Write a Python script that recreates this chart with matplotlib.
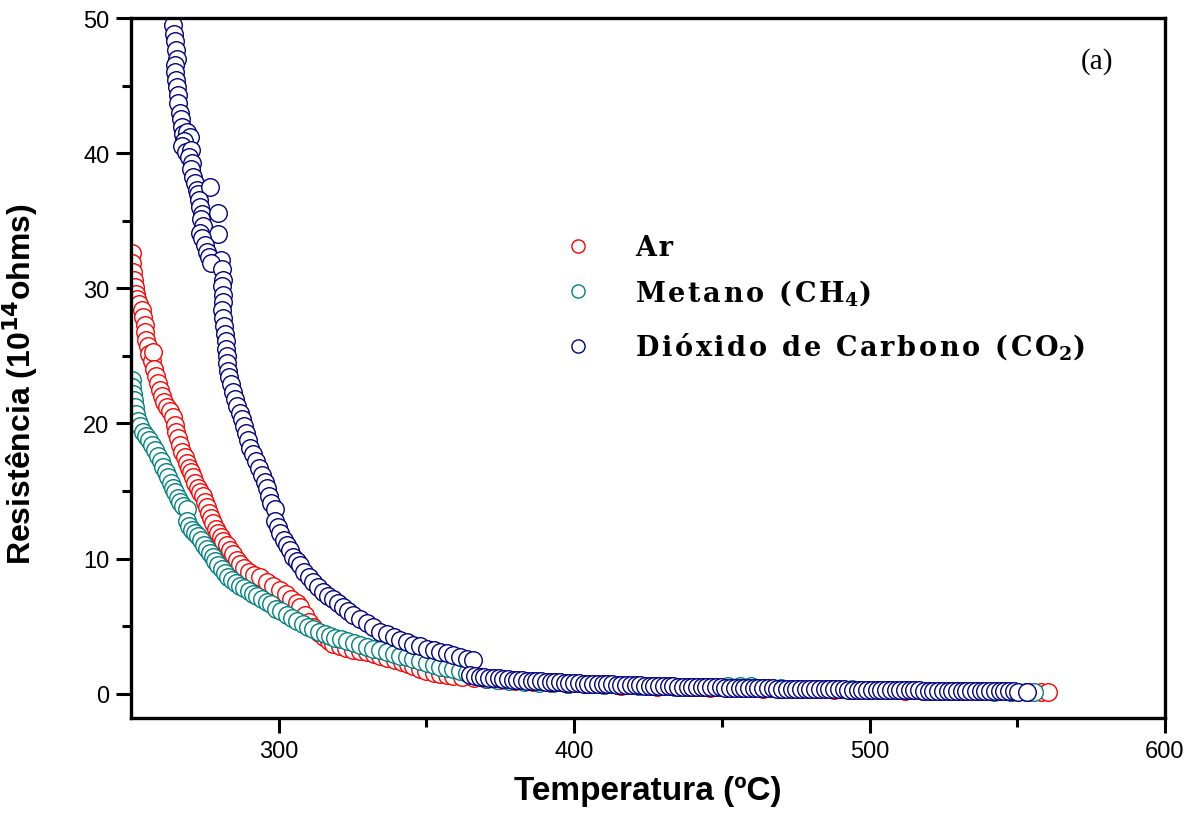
import matplotlib
matplotlib.use("Agg")
import matplotlib.pyplot as plt
from matplotlib.lines import Line2D

# Ar
ar_temp = [250.3, 250.4, 250.6, 250.9, 251.3, 251.6, 252.0, 252.8, 253.6, 254.1,
           254.6, 254.9, 255.1, 255.6, 256.2, 257.2, 257.5, 257.9, 258.6, 259.2,
           259.9, 260.5, 261.2, 262.2, 263.3, 264.3, 264.8, 265.2, 265.8, 266.6,
           267.4, 268.2, 268.8, 269.6, 270.4, 271.1, 271.8, 272.6, 273.4, 274.3,
           275.0, 275.6, 276.4, 277.2, 277.9, 278.7, 279.5, 280.4, 281.3, 282.4,
           283.5, 284.6, 285.8, 286.9, 288.4, 290.0, 291.8, 293.7, 295.9, 298.1,
           300.4, 302.3, 304.2, 306.1, 307.2, 308.8, 310.3, 311.7, 313.5, 315.3,
           317.0, 318.5, 320.6, 322.8, 325.3, 327.6, 330.0, 332.2, 334.3, 336.8,
           339.2, 341.6, 343.6, 345.6, 347.8, 350.0, 352.4, 354.6, 356.8, 359.1,
           362.0, 366.0, 370.0, 375.0, 380.0, 386.0, 392.0, 398.0, 404.0, 410.0,
           416.0, 422.0, 428.0, 434.0, 440.0, 446.0, 452.0, 458.0, 464.0, 470.0,
           476.0, 482.0, 488.0, 494.0, 500.0, 506.0, 512.0, 518.0, 524.0, 530.0,
           536.0, 542.0, 548.0, 554.0, 558.0, 560.4]
ar_res = [32.6, 31.9, 31.2, 30.6, 30.1, 29.6, 29.2, 28.8, 28.4, 27.9,
          27.3, 26.8, 26.2, 25.7, 25.1, 24.6, 25.3, 24.0, 23.5, 23.0,
          22.5, 22.0, 21.6, 21.2, 20.9, 20.5, 19.9, 19.4, 18.9, 18.4,
          17.9, 17.5, 17.1, 16.7, 16.4, 16.0, 15.6, 15.2, 14.9, 14.6,
          14.2, 13.8, 13.4, 13.0, 12.6, 12.2, 11.9, 11.6, 11.3, 11.0,
          10.6, 10.3, 9.9, 9.6, 9.3, 9.0, 8.8, 8.6, 8.3, 8.0,
          7.7, 7.4, 7.0, 6.7, 6.4, 5.8, 5.3, 4.9, 4.5, 4.2,
          3.9, 3.7, 3.5, 3.35, 3.25, 3.15, 3.05, 2.9, 2.8, 2.65,
          2.5, 2.35, 2.2, 2.05, 1.85, 1.7, 1.55, 1.45, 1.4, 1.3,
          1.25, 1.15, 1.08, 1.0, 0.93, 0.86, 0.8, 0.74, 0.69, 0.64,
          0.6, 0.56, 0.53, 0.5, 0.47, 0.44, 0.41, 0.39, 0.37, 0.35,
          0.33, 0.31, 0.29, 0.27, 0.26, 0.24, 0.23, 0.22, 0.2, 0.19,
          0.18, 0.17, 0.16, 0.15, 0.14, 0.13]

# Metano (CH4)
ch4_temp = [250.3, 250.5, 250.8, 251.1, 251.4, 251.8, 252.3, 253.0, 254.0, 255.0,
            256.0, 257.0, 258.0, 259.0, 260.0, 260.9, 261.8, 262.6, 263.4, 264.2,
            265.0, 265.8, 266.6, 267.5, 268.8, 268.9, 269.8, 270.8, 271.8, 272.8,
            273.8, 274.8, 275.7, 276.6, 277.6, 278.6, 279.6, 280.7, 281.8, 283.0,
            284.3, 285.6, 287.0, 288.4, 289.8, 291.3, 292.8, 294.3, 295.9, 297.5,
            299.2, 300.9, 302.7, 304.5, 306.3, 308.1, 309.9, 311.7, 313.6, 315.5,
            317.4, 319.2, 321.0, 323.2, 325.4, 327.6, 329.8, 332.0, 334.3, 336.6,
            338.9, 341.1, 343.4, 345.6, 347.9, 350.1, 352.4, 354.6, 356.9, 359.1,
            361.4, 363.6, 365.9, 368.2, 370.4, 374.0, 378.0, 383.0, 388.0, 393.0,
            398.0, 404.0, 410.0, 416.0, 422.0, 428.0, 434.0, 440.0, 446.0, 452.0,
            456.0, 460.0, 464.0, 470.0, 476.0, 482.0, 488.0, 494.0, 500.0, 506.0,
            512.0, 518.0, 524.0, 530.0, 536.0, 542.0, 548.0, 553.0, 555.5]
ch4_res = [23.2, 22.7, 22.2, 21.7, 21.2, 20.7, 20.2, 19.8, 19.4, 19.1,
           18.8, 18.4, 18.0, 17.6, 17.2, 16.8, 16.4, 16.0, 15.6, 15.2,
           14.9, 14.5, 14.2, 13.9, 13.7, 12.8, 12.4, 12.1, 11.9, 11.7,
           11.4, 11.0, 10.7, 10.4, 10.1, 9.8, 9.5, 9.2, 8.9, 8.6,
           8.4, 8.2, 8.0, 7.8, 7.6, 7.4, 7.2, 7.0, 6.8, 6.6,
           6.3, 6.1, 5.8, 5.6, 5.35, 5.15, 4.95, 4.8, 4.6, 4.45,
           4.3, 4.15, 4.05, 3.9, 3.75, 3.6, 3.45, 3.3, 3.2, 3.05,
           2.95, 2.8, 2.7, 2.6, 2.45, 2.3, 2.15, 2.0, 1.9, 1.8,
           1.65, 1.5, 1.35, 1.2, 1.05, 0.98, 0.92, 0.87, 0.82, 0.78,
           0.74, 0.7, 0.66, 0.62, 0.59, 0.56, 0.53, 0.5, 0.48, 0.56,
           0.6, 0.56, 0.44, 0.41, 0.38, 0.36, 0.34, 0.31, 0.29, 0.27,
           0.25, 0.23, 0.21, 0.19, 0.17, 0.15, 0.13, 0.11, 0.1]

# Dioxido de Carbono (CO2): upper run up to 366 C, then the lower run
co2_temp = [263.2, 263.5, 263.9, 264.1, 264.3, 264.6, 264.9, 265.3, 265.5, 265.0,
            264.9, 265.3, 265.5, 266.0, 266.0, 266.5, 266.8, 267.4, 267.7, 269.0,
            270.0, 268.0, 267.2, 268.5, 270.4, 269.6, 270.5, 270.3, 270.9, 271.6,
            272.2, 272.8, 276.7, 273.1, 273.4, 274.0, 279.6, 273.6, 274.3, 273.4,
            279.6, 274.2, 275.0, 275.6, 276.3, 280.4, 277.0, 280.7, 281.0, 280.7,
            281.0, 281.2, 280.9, 281.2, 281.5, 281.8, 282.0, 282.3, 282.4, 282.6,
            282.9, 283.3, 283.9, 284.6, 285.3, 286.0, 286.8, 287.5, 288.2, 288.9,
            289.6, 290.3, 291.2, 292.2, 293.2, 294.2, 295.2, 296.0, 296.8, 297.5,
            298.7, 298.9, 299.6, 300.5, 301.7, 302.7, 303.8, 305.0, 306.1, 307.2,
            308.6, 310.1, 311.7, 313.4, 315.1, 316.8, 318.5, 320.2, 321.9, 323.6,
            325.3, 327.5, 329.8, 332.0, 334.3, 336.6, 338.9, 341.2, 343.4, 345.6,
            347.9, 350.2, 352.4, 354.7, 356.9, 359.1, 361.4, 363.6, 365.9,
            364.8, 366.4, 368.0, 369.6, 371.2, 372.8, 374.4, 376.0, 377.6, 379.2,
            380.8, 382.4, 384.0, 385.6, 387.2, 388.8, 390.4, 392.0, 393.6, 395.2,
            396.8, 398.4, 400.0, 401.6, 403.2, 404.8, 406.4, 408.0, 409.6, 411.2,
            412.8, 414.4, 416.0, 417.6, 419.2, 420.8, 422.4, 424.0, 425.6, 427.2,
            428.8, 430.4, 432.0, 433.6, 435.2, 436.8, 438.4, 440.0, 441.6, 443.2,
            444.8, 446.4, 448.0, 449.6, 451.2, 452.8, 454.4, 456.0, 457.6, 459.2,
            460.8, 462.4, 464.0, 465.6, 467.2, 468.8, 470.4, 472.0, 473.6, 475.2,
            476.8, 478.4, 480.0, 481.6, 483.2, 484.8, 486.4, 488.0, 489.6, 491.2,
            492.8, 494.4, 496.0, 497.6, 499.2, 500.8, 502.4, 504.0, 505.6, 507.2,
            508.8, 510.4, 512.0, 513.6, 515.2, 516.8, 518.4, 520.0, 521.6, 523.2,
            524.8, 526.4, 528.0, 529.6, 531.2, 532.8, 534.4, 536.0, 537.6, 539.2,
            540.8, 542.4, 544.0, 545.6, 547.2, 548.8, 550.4, 553.3]
co2_res = [54.0, 52.8, 51.5, 50.4, 49.5, 48.8, 48.3, 47.6, 47.0, 46.5,
           46.0, 45.4, 44.9, 44.3, 43.7, 43.0, 42.5, 41.9, 41.4, 41.6,
           41.2, 40.9, 40.5, 40.1, 40.2, 39.7, 39.3, 38.8, 38.2, 37.8,
           37.3, 37.0, 37.5, 36.5, 36.0, 35.5, 35.6, 35.1, 34.6, 34.1,
           34.0, 33.7, 33.2, 32.7, 32.3, 32.1, 31.9, 31.4, 30.6, 30.2,
           29.5, 29.0, 28.4, 27.8, 27.2, 26.6, 26.1, 25.5, 25.0, 24.5,
           23.9, 23.4, 22.9, 22.3, 21.8, 21.3, 20.8, 20.3, 19.8, 19.3,
           18.8, 18.2, 17.7, 17.2, 16.7, 16.2, 15.7, 15.2, 14.6, 14.1,
           13.7, 12.8, 12.3, 11.9, 11.4, 11.0, 10.6, 10.1, 9.8, 9.5,
           9.0, 8.6, 8.3, 7.9, 7.5, 7.2, 7.0, 6.7, 6.4, 6.1,
           5.8, 5.5, 5.2, 4.9, 4.6, 4.4, 4.2, 4.0, 3.8, 3.6,
           3.5, 3.3, 3.2, 3.1, 3.0, 2.85, 2.7, 2.6, 2.5,
           1.35, 1.31, 1.27, 1.23, 1.19, 1.16, 1.13, 1.10, 1.07, 1.04,
           1.02, 0.99, 0.97, 0.95, 0.93, 0.91, 0.89, 0.87, 0.85, 0.83,
           0.81, 0.80, 0.78, 0.77, 0.75, 0.74, 0.73, 0.71, 0.70, 0.69,
           0.68, 0.66, 0.65, 0.64, 0.63, 0.62, 0.61, 0.60, 0.59, 0.58,
           0.57, 0.56, 0.55, 0.54, 0.53, 0.53, 0.52, 0.51, 0.50, 0.49,
           0.48, 0.48, 0.47, 0.46, 0.45, 0.45, 0.44, 0.43, 0.43, 0.42,
           0.41, 0.41, 0.40, 0.39, 0.39, 0.38, 0.38, 0.37, 0.36, 0.36,
           0.35, 0.35, 0.34, 0.34, 0.33, 0.33, 0.32, 0.32, 0.31, 0.31,
           0.30, 0.30, 0.29, 0.29, 0.28, 0.28, 0.27, 0.27, 0.26, 0.26,
           0.26, 0.25, 0.25, 0.24, 0.24, 0.24, 0.23, 0.23, 0.22, 0.22,
           0.22, 0.21, 0.21, 0.21, 0.20, 0.20, 0.20, 0.19, 0.19, 0.19,
           0.18, 0.18, 0.18, 0.17, 0.17, 0.17, 0.16, 0.16]

labels = ["Ar", "Metano (CH$_{4}$)", "Dióxido de Carbono (CO$_{2}$)"]
colors = ["#ff0000", "#008080", "#000080"]


def tracked(s):
    # hair spaces between letters outside the mathtext parts
    parts = s.split("$")
    for i in range(0, len(parts), 2):
        parts[i] = "\u200a".join(parts[i])
    return "$".join(parts)


plt.rcParams["mathtext.fontset"] = "custom"
plt.rcParams["mathtext.rm"] = "DejaVu Serif:bold"
plt.rcParams["mathtext.sf"] = "Liberation Sans Narrow:bold"
plt.rcParams["mathtext.default"] = "rm"

fig = plt.figure(figsize=(12.01, 8.29), dpi=100)
W, H = 1201.0, 829.0
ax = fig.add_axes([131 / W, 1 - 719 / H, (1165 - 131) / W, (719 - 19) / H])

for xs, ys, c in zip([ar_temp, ch4_temp, co2_temp], [ar_res, ch4_res, co2_res], colors):
    ax.scatter(xs, ys, s=160, facecolors="white", edgecolors=c, linewidths=1.0)

ax.set_xlim(250, 600)
ax.set_ylim(-1.8, 50)
ax.set_xticks([300, 400, 500, 600])
ax.set_xticks([350, 450, 550], minor=True)
ax.set_yticks([0, 10, 20, 30, 40, 50])
ax.set_yticks([5, 15, 25, 35, 45], minor=True)
ax.tick_params(which="major", direction="out", length=10.5, width=2.2,
               labelsize=17, pad=5)
ax.tick_params(which="minor", direction="out", length=6.5, width=2.2)
for lab in ax.get_xticklabels() + ax.get_yticklabels():
    lab.set_family("Liberation Sans")
for sp in ax.spines.values():
    sp.set_linewidth(2.4)

lab_font = dict(family=["Liberation Sans Narrow", "Liberation Sans"], weight="bold", size=24)
ax.set_xlabel("Temperatura (ºC)", labelpad=10, **lab_font)
ax.set_ylabel("Resistência (10" + r"$\mathsf{^{14}}$" + "ohms)",
              family=["Liberation Sans Narrow", "Liberation Sans"], weight="bold", size=23)
ax.yaxis.set_label_coords(-0.088, 0.478)

ax.text(0.934, 0.9386, "(a)", transform=ax.transAxes, ha="center", va="center",
        family="Liberation Serif", size=21)

# legend drawn by hand
leg_y = [247, 292, 347]
for lab, c, yp in zip(labels, colors, leg_y):
    fig.add_artist(Line2D([578 / W], [1 - yp / H], marker="o", ms=9.5, mfc="white",
                          mec=c, mew=1.0, transform=fig.transFigure))
    fig.text(635 / W, 1 - (yp + 9) / H, tracked(lab), va="baseline", ha="left",
             family="DejaVu Serif", weight="bold", size=19.5)

fig.savefig("out.png", dpi=100)
